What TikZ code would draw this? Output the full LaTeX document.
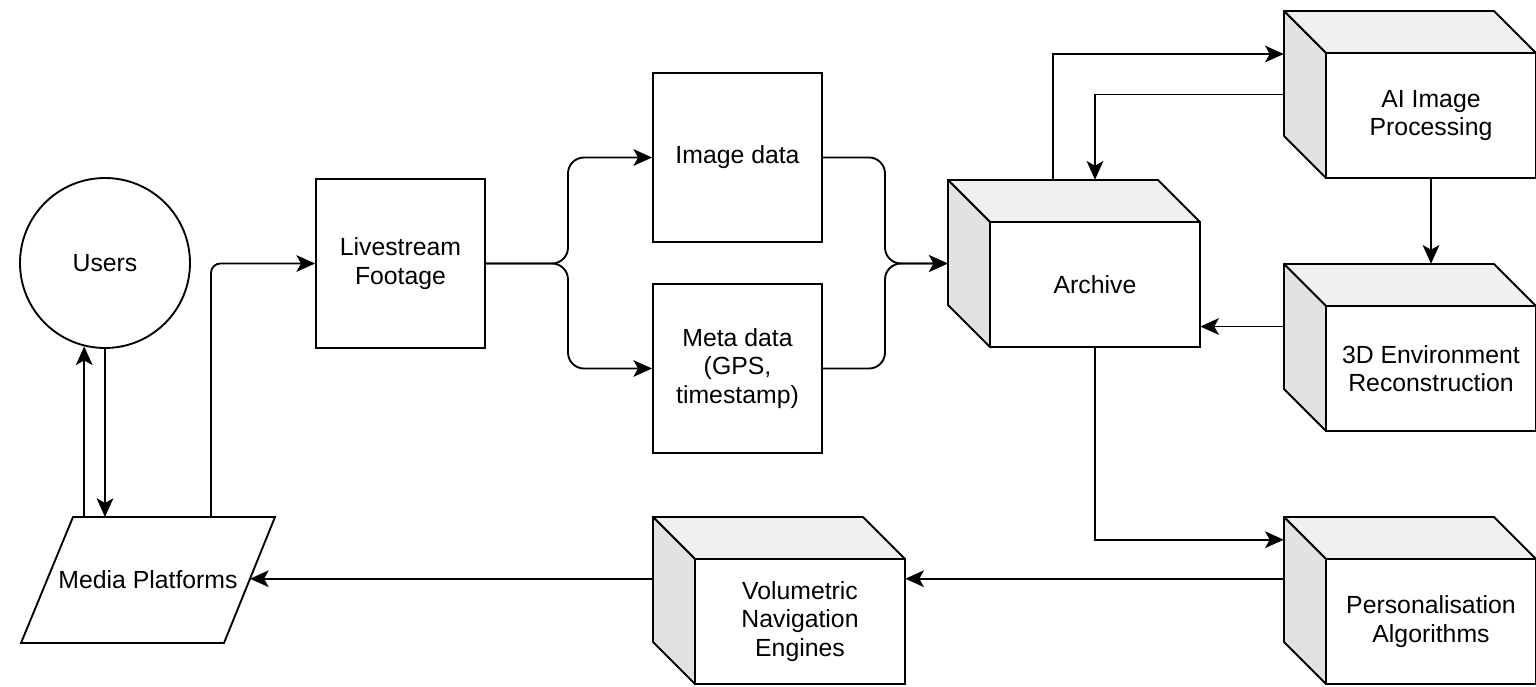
\documentclass[tikz,border=0pt]{standalone}
\usepackage{fontspec}
\setmainfont{Liberation Sans}
\usetikzlibrary{arrows.meta,calc}

\definecolor{topgray}{HTML}{F0F0F0}
\definecolor{sidegray}{HTML}{E2E2E2}

\tikzset{
  every node/.style={font=\fontsize{18.6}{21.5}\selectfont, align=center, inner sep=0pt},
  line/.style={line width=1.4pt, draw=black},
  arr/.style={line, -{Stealth[length=14pt,width=12.5pt,inset=3.5pt]}},
  rc/.style={rounded corners=12pt},
  squarebox/.style={line, fill=white, minimum width=126.75pt, minimum height=126.75pt},
  usercircle/.style={line, circle, fill=white, minimum size=127.5pt},
  cubebound/.style={rectangle, minimum width=189pt, minimum height=125.25pt},
  frontface/.style={line, rectangle, fill=white, minimum width=157.5pt, minimum height=93.75pt},
  topfacestyle/.style={line, fill=topgray, line join=round},
  sidefacestyle/.style={line, fill=sidegray, line join=round},
}

% cube: name, x and y of the back top-left corner (px), label
\newcommand\drawcube[4]{%
  \node[cubebound] (#1) at ({#2+126},{#3+83.5}) {};
  \filldraw[topfacestyle] (#2,#3) -- ({#2+210},#3) -- ({#2+252},{#3+42}) -- ({#2+42},{#3+42}) -- cycle;
  \filldraw[sidefacestyle] (#2,#3) -- ({#2+42},{#3+42}) -- ({#2+42},{#3+167}) -- (#2,{#3+125}) -- cycle;
  \node[frontface] (#1-f) at ({#2+147},{#3+104.5}) {#4};
}

\begin{document}
\begin{tikzpicture}[x=0.75pt,y=-0.75pt]
\useasboundingbox (0,0) rectangle (1536,686);

% users and media platforms
\node[usercircle] (users) at (105,263) {Users};
\coordinate (media-tl) at (73,517);
\coordinate (media-tr) at (275,517);
\coordinate (media-br) at (224,643);
\coordinate (media-bl) at (21,643);
\filldraw[line, fill=white] (media-tl) -- (media-tr) -- (media-br) -- (media-bl) -- cycle;
\node (media) at (148,580) {Media Platforms};
\coordinate (media-e) at ($(media-tr)!0.49!(media-br)$);
\coordinate (media-up) at (211,517);

% data boxes
\node[squarebox] (live) at (400.5,263.5) {Livestream\\Footage};
\node[squarebox] (img) at (737.5,157.5) {Image data};
\node[squarebox] (meta) at (737.5,368.5) {Meta data\\(GPS,\\timestamp)};

% processing cubes
\drawcube{archive}{948}{180}{Archive}
\drawcube{ai}{1284}{11}{AI Image\\Processing}
\drawcube{envr}{1284}{264}{3D Environment\\Reconstruction}
\drawcube{pers}{1284}{517}{Personalisation\\Algorithms}
\drawcube{vol}{653}{517}{Volumetric\\Navigation\\Engines}

% connectors
\draw[arr] (users.-104 |- media-tl) -- (users.-104);
\draw[arr] (users.south) -- (users.south |- media-tl);
\draw[arr, rounded corners=7pt] (media-up) |- (live.west);

\coordinate (split) at (568,263.5);
\coordinate (join) at (885,263.5);
\draw[arr, rc] (live.east) -- (split) |- (img.west);
\draw[arr, rc] (live.east) -- (split) |- (meta.west);
\draw[arr, rc] (img.east) -| (join) -- (archive.west);
\draw[arr, rc] (meta.east) -| (join) -- (archive.west);

\coordinate (arch-up) at ($(archive.north west)+(105,0)$);
\coordinate (ai-in) at ($(ai.west)+(0,-40.5)$);
\draw[arr] (arch-up) |- (ai-in);
\draw[arr] (ai.west) -| (archive-f |- archive.north);
\draw[arr] (ai-f.south) -- (ai-f.south |- envr.north);

\coordinate (envr-out) at ($(envr.west)+(0,-21)$);
\draw[arr] (envr-out) -- (envr-out -| archive.east);

\coordinate (pers-in) at ($(pers.north west)+(0,23)$);
\draw[arr] (archive-f.south) |- (pers-in);
\coordinate (pers-out) at ($(pers.north west)+(0,62)$);
\draw[arr] (pers-out) -- (pers-out -| vol.east);

\coordinate (vol-out) at (vol.north west |- media-e);
\draw[arr] (vol-out) -- (media-e);
\end{tikzpicture}
\end{document}
